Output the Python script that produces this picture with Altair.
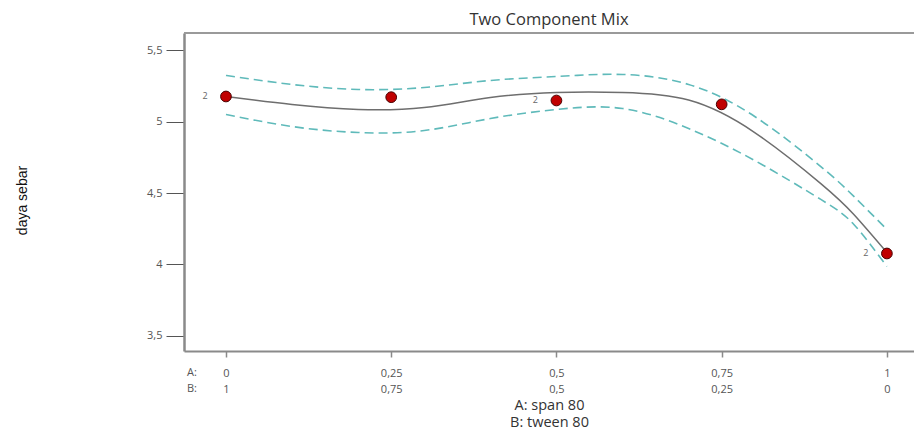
import altair as alt
import pandas as pd

# ---- data ----
a_ticks = [0, 0.25, 0.5, 0.75, 1]
a_labels = ["0", "0,25", "0,5", "0,75", "1"]
b_labels = ["1", "0,75", "0,5", "0,25", "0"]
y_ticks = [3.5, 4, 4.5, 5, 5.5]
y_labels = ["3,5", "4", "4,5", "5", "5,5"]

pt_x = [0, 0.25, 0.5, 0.75, 1]
pt_y = [5.175, 5.17, 5.147, 5.12, 4.077]
pt_rep = ["2", "", "2", "", "2"]

curve_x = [0, 0.1, 0.2, 0.3, 0.4, 0.5, 0.6, 0.7, 0.8, 0.9, 0.95, 1]
fit_y = [5.175, 5.119, 5.084, 5.098, 5.168, 5.203, 5.203, 5.150, 4.923, 4.566, 4.350, 4.084]
upper_y = [5.322, 5.259, 5.224, 5.238, 5.287, 5.315, 5.329, 5.259, 5.035, 4.685, 4.476, 4.245]
lower_y = [5.049, 4.965, 4.923, 4.937, 5.021, 5.084, 5.091, 4.951, 4.727, 4.455, 4.280, 3.986]

W, H = 730, 318
FONT = "Open Sans"

pts = pd.DataFrame({"x": pt_x, "y": pt_y, "rep": pt_rep})
curve = pd.DataFrame({"x": curve_x, "fit": fit_y, "upper": upper_y, "lower": lower_y})

xscale = alt.Scale(domain=[-0.0635, 1.041], nice=False, zero=False)
yscale = alt.Scale(domain=[3.395, 5.619], nice=False, zero=False)

a_js = "[" + ",".join(str(v) for v in a_ticks) + "]"
lab_js = "[" + ",".join("['%s','%s']" % (a, b) for a, b in zip(a_labels, b_labels)) + "]"
x_expr = lab_js + "[indexof(" + a_js + ", datum.value)]"
y_js = "[" + ",".join(str(v) for v in y_ticks) + "]"
ylab_js = "[" + ",".join("'%s'" % s for s in y_labels) + "]"
y_expr = ylab_js + "[indexof(" + y_js + ", datum.value)]"

xaxis = alt.Axis(
    values=a_ticks, labelExpr=x_expr, grid=False,
    domainColor="#8a8a8a", domainWidth=2,
    tickColor="#8a8a8a", tickSize=6, tickWidth=1.5,
    labelFont=FONT, labelFontSize=11, labelColor="#555555",
    labelPadding=10, labelLineHeight=16, labelBaseline="top",
    title=["A: span 80", "B: tween 80"], titleFont=FONT, titleFontSize=14.5,
    titleFontWeight="normal", titleColor="#333333", titleLineHeight=17,
    titlePadding=4,
)
yaxis = alt.Axis(
    values=y_ticks, labelExpr=y_expr, grid=False,
    domainColor="#8a8a8a", domainWidth=2.5,
    tickColor="#555555", tickSize=18, tickWidth=1,
    labelFont=FONT, labelFontSize=11, labelColor="#555555", labelPadding=4,
    title="daya sebar", titleFont="Liberation Sans", titleFontSize=14,
    titleFontWeight="normal", titleColor="#111111",
    titleAngle=270, titleAlign="center", titleBaseline="middle",
    titleX=-162, titleY=167,
)

base = alt.Chart(curve)

upper = base.mark_line(color="#5fbaba", strokeWidth=1.6, strokeDash=[9, 5],
                       interpolate="natural").encode(
    x=alt.X("x:Q", scale=xscale, axis=xaxis),
    y=alt.Y("upper:Q", scale=yscale, axis=yaxis),
)
lower = base.mark_line(color="#5fbaba", strokeWidth=1.6, strokeDash=[9, 5],
                       interpolate="natural").encode(
    x=alt.X("x:Q", scale=xscale), y=alt.Y("lower:Q", scale=yscale))
fit = base.mark_line(color="#6e6e6e", strokeWidth=1.5, interpolate="natural").encode(
    x=alt.X("x:Q", scale=xscale), y=alt.Y("fit:Q", scale=yscale))

points = alt.Chart(pts).mark_point(
    shape="circle", filled=True, size=115, fill="#c00000",
    stroke="#4a0000", strokeWidth=1, opacity=1
).encode(x=alt.X("x:Q", scale=xscale), y=alt.Y("y:Q", scale=yscale))

reps = alt.Chart(pts).mark_text(
    font=FONT, fontSize=9, color="#666666", dx=-21, align="center", baseline="middle"
).encode(x=alt.X("x:Q", scale=xscale), y=alt.Y("y:Q", scale=yscale), text="rep:N")

top_rule = alt.Chart(pts).mark_rule(color="#9a9a9a", strokeWidth=2).encode(
    x=alt.value(0), x2=alt.value(W), y=alt.value(0))

prefix = alt.Chart(pd.DataFrame({"t": ["A:\nB:"]})).mark_text(
    font=FONT, fontSize=11, color="#555555", align="left", baseline="top",
    lineBreak="\n", lineHeight=16
).encode(x=alt.value(3), y=alt.value(H + 16), text="t:N")

chart = alt.layer(upper, lower, fit, points, reps, top_rule, prefix).properties(
    width=W, height=H,
    title=alt.TitleParams("Two Component Mix", font=FONT, fontSize=16.5,
                          fontWeight="normal", color="#333333", anchor="middle", offset=4),
    autosize=alt.AutoSizeParams(type="none"),
    padding={"left": 176, "top": 25, "right": 0, "bottom": 83},
).configure_view(stroke=None)

chart.save("out.html", embed_options={"renderer": "svg", "actions": False})
